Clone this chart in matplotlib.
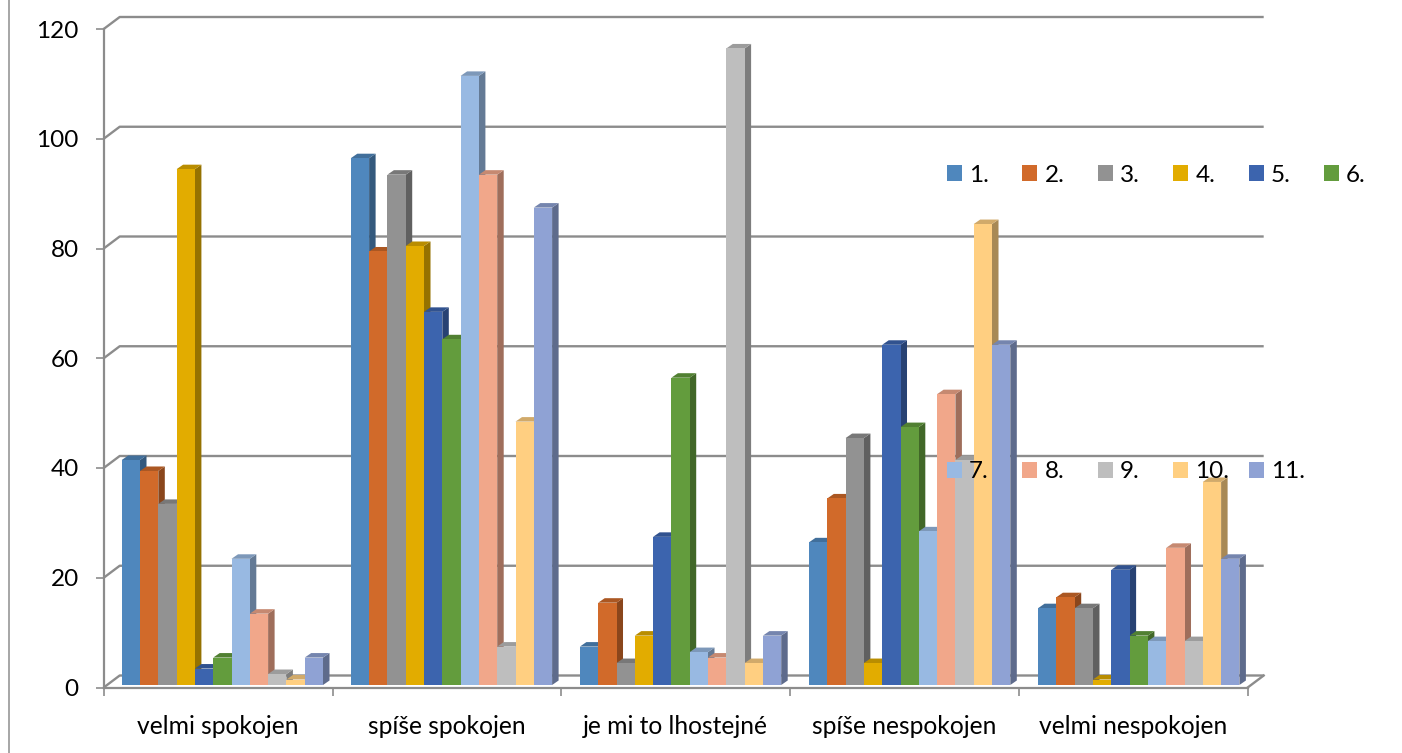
import matplotlib
matplotlib.use("Agg")
import matplotlib.pyplot as plt
from matplotlib.colors import to_rgb
from matplotlib.lines import Line2D
from matplotlib.patches import Patch

plt.rcParams['font.family'] = ['Lato', 'DejaVu Sans']

categories = ["velmi spokojen", "spíše spokojen", "je mi to lhostejné", "spíše nespokojen", "velmi nespokojen"]
series_labels = ["1.", "2.", "3.", "4.", "5.", "6.", "7.", "8.", "9.", "10.", "11."]
colors = ["#4F87BD", "#D16A2A", "#929292", "#E2AC00", "#3C64AE", "#639C3D",
          "#98B9E2", "#F1A78A", "#BEBEBE", "#FFCF81", "#8FA2D4"]
velmi_spokojen = [41, 39, 33, 94, 3, 5, 23, 13, 2, 1, 5]
spise_spokojen = [96, 79, 93, 80, 68, 63, 111, 93, 7, 48, 87]
lhostejne = [7, 15, 4, 9, 27, 56, 6, 5, 116, 4, 9]
spise_nespokojen = [26, 34, 45, 4, 62, 47, 28, 53, 41, 84, 62]
velmi_nespokojen = [14, 16, 14, 1, 21, 9, 8, 25, 8, 37, 23]
values = [velmi_spokojen, spise_spokojen, lhostejne, spise_nespokojen, velmi_nespokojen]
yticks = [0, 20, 40, 60, 80, 100, 120]

W, H = 1402, 753
fig = plt.figure(figsize=(W / 100, H / 100), dpi=100)
left, right, y0, y120 = 103.7, 1247.7, 687.5, 29
ax = fig.add_axes([left / W, 1 - y0 / H, (right - left) / W, (y0 - y120) / H])
ax.set_xlim(0, 5)
ax.set_ylim(0, 120)
px_x = 5 / (right - left)
px_y = 120 / (y0 - y120)

grid_color = "#8C8C8C"
for s in ["top", "right"]:
    ax.spines[s].set_visible(False)
for s in ["left", "bottom"]:
    ax.spines[s].set_color(grid_color)
    ax.spines[s].set_linewidth(1.6)

ax.set_yticks(yticks)
ax.set_xticks(range(6))
ax.set_xticklabels([])
ax.tick_params(axis='both', color=grid_color, width=1.2, length=6)
ax.tick_params(axis='y', labelsize=17.5, pad=12, labelcolor="black")
for i, name in enumerate(categories):
    ax.annotate(name, (i + 0.5, 0), xytext=(0, -38.5 * 0.72), xycoords='data', textcoords='offset points',
                ha='center', va='center', fontsize=17.7, color="black")

# walls and floor of the fake 3d box
wall_x, wall_y = 16 * px_x, 12 * px_y
for t in yticks:
    ax.plot([0, wall_x, 5 + wall_x], [t, t + wall_y, t + wall_y],
            color=grid_color, lw=1.7, clip_on=False, zorder=1, solid_capstyle='butt')
ax.plot([5, 5 + wall_x], [0, wall_y], color=grid_color, lw=1.7, clip_on=False, zorder=1)

# bars with side and top faces
bar_w = 18.3 * px_x
start = 0.0787
group_pitch = 229.1 * px_x
depth_x, depth_y = 6.5 * px_x, 4.5 * px_y
base = 2.5 * px_y
z = 3
for i, row in enumerate(values):
    for j, v in enumerate(row):
        x0 = start + i * group_pitch + j * bar_w
        x1 = x0 + bar_w
        top = base + v
        c = to_rgb(colors[j])
        side = tuple(k * 0.66 for k in c)
        cap = tuple(k * 0.82 for k in c)
        ax.fill([x1, x1 + depth_x, x1 + depth_x, x1],
                [base, base + depth_y, top + depth_y, top],
                color=side, lw=0, clip_on=False, zorder=z)
        ax.fill([x0, x0 + depth_x, x1 + depth_x, x1],
                [top, top + depth_y, top + depth_y, top],
                color=cap, lw=0, clip_on=False, zorder=z)
        ax.bar(x0, v, width=bar_w, bottom=base, align='edge', color=colors[j], lw=0, clip_on=False, zorder=z)
        z += 1

# legend has two far apart rows with a fixed pitch
leg_x = [947 + 75.4 * k for k in range(6)]
for k, (lab, col) in enumerate(zip(series_labels, colors)):
    x = leg_x[k % 6]
    y = 175 if k < 6 else 472
    fig.legend(handles=[Patch(color=col, lw=0)], labels=[lab], loc='center left',
               bbox_to_anchor=(x / W, 1 - y / H), borderpad=0, borderaxespad=0, frameon=False,
               fontsize=17.5, handlelength=0.62, handleheight=0.62, handletextpad=0.29)

fig.add_artist(Line2D([9 / W, 9 / W], [0, 1], color="#A6A6A6", lw=1.4))
fig.savefig("out.png", dpi=100)
